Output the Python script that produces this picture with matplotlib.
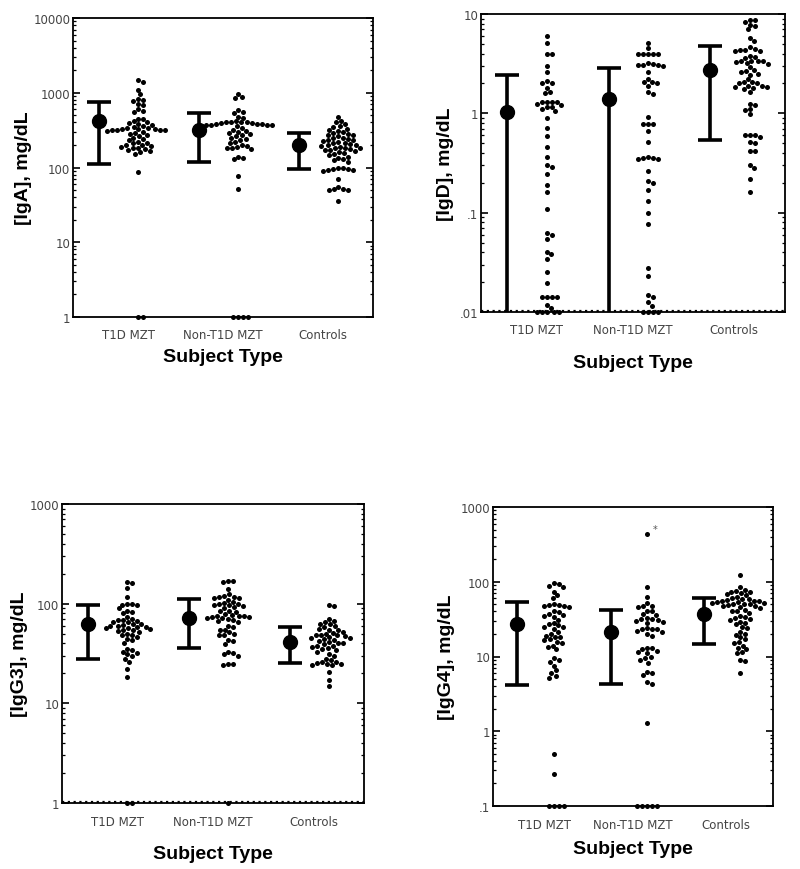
import numpy as np
import matplotlib
matplotlib.use("Agg")
import matplotlib.pyplot as plt
from matplotlib.ticker import FixedLocator, LogLocator, NullFormatter

plt.rcParams['font.family'] = ['DejaVu Sans']

categories = ["T1D MZT", "Non-T1D MZT", "Controls"]

# ---- IgA (mg/dL) ----
iga_t1d = [1480, 1400, 1100, 950, 820, 800, 780, 700, 680, 600, 570, 560, 450, 440, 420, 400,
           390, 380, 370, 360, 350, 340, 335, 330, 330, 325, 320, 320, 315, 315, 310, 300, 290,
           280, 270, 260, 250, 240, 230, 220, 215, 210, 200, 200, 195, 190, 185, 180, 175, 170,
           165, 160, 150, 88, 1, 1]
iga_non = [960, 870, 850, 580, 560, 540, 480, 460, 420, 410, 410, 400, 400, 395, 390, 385, 380,
           380, 375, 370, 370, 365, 360, 340, 320, 310, 300, 290, 280, 270, 260, 250, 240, 230,
           220, 210, 200, 195, 190, 185, 180, 175, 140, 135, 130, 78, 52, 1, 1, 1, 1]
iga_ctl = [480, 420, 400, 380, 360, 350, 330, 320, 310, 300, 290, 280, 275, 270, 260, 250, 245,
           240, 235, 230, 225, 220, 215, 210, 205, 200, 200, 195, 190, 185, 180, 180, 175, 170,
           170, 165, 160, 155, 150, 145, 140, 135, 130, 125, 120, 98, 97, 96, 95, 94, 92, 90,
           70, 55, 52, 51, 50, 50, 36]
iga_mean = [420, 318, 200]
iga_lo = [111, 118, 95]
iga_hi = [752, 535, 290]

# ---- IgD (mg/dL) ----
igd_t1d = [6.0, 5.1, 4.0, 4.0, 3.0, 2.6, 2.1, 2.0, 2.0, 1.8, 1.65, 1.6, 1.3, 1.3, 1.3, 1.3, 1.25,
           1.2, 1.15, 1.15, 1.1, 1.05, 0.9, 0.72, 0.59, 0.46, 0.36, 0.3, 0.29, 0.245, 0.19, 0.16,
           0.11, 0.062, 0.06, 0.054, 0.04, 0.038, 0.034, 0.025, 0.0195, 0.014, 0.014, 0.014,
           0.014, 0.0118, 0.011, 0.01, 0.01, 0.01, 0.01, 0.01]
igd_non = [5.1, 4.5, 4.0, 4.0, 4.0, 4.0, 4.0, 3.2, 3.15, 3.1, 3.1, 3.05, 3.0, 2.6, 2.2, 2.05,
           2.05, 2.0, 1.9, 1.63, 1.57, 0.92, 0.78, 0.78, 0.78, 0.67, 0.51, 0.36, 0.355, 0.355,
           0.35, 0.35, 0.265, 0.21, 0.2, 0.17, 0.13, 0.1, 0.077, 0.028, 0.023, 0.015, 0.0143,
           0.0125, 0.0115, 0.01, 0.01, 0.01, 0.01]
igd_ctl = [8.8, 8.7, 8.4, 7.8, 7.5, 7.0, 5.7, 5.3, 4.6, 4.4, 4.3, 4.3, 4.2, 4.2, 3.8, 3.7, 3.6,
           3.4, 3.4, 3.4, 3.35, 3.3, 3.2, 3.15, 2.9, 2.7, 2.65, 2.6, 2.5, 2.45, 2.2, 2.05, 2.05,
           2.0, 2.0, 1.9, 1.9, 1.85, 1.85, 1.8, 1.75, 1.63, 1.25, 1.2, 1.1, 1.08, 0.98, 0.6, 0.6,
           0.6, 0.58, 0.51, 0.5, 0.42, 0.42, 0.3, 0.28, 0.22, 0.163]
igd_mean = [1.04, 1.39, 2.73]
igd_lo = [0.001, 0.001, 0.54]
igd_hi = [2.45, 2.84, 4.73]

# ---- IgG3 (mg/dL) ----
igg3_t1d = [165, 160, 145, 118, 100, 99, 98, 96, 90, 85, 83, 80, 74, 70, 69, 68, 67, 66, 65, 63,
            62, 61, 60, 60, 59, 58, 57, 57, 56, 55, 54, 53, 52, 50, 49, 48, 46, 44, 43, 40, 35,
            34, 33, 32, 31, 30, 28, 26, 22, 18.5, 1, 1]
igg3_non = [170, 168, 165, 140, 125, 120, 118, 116, 115, 113, 110, 105, 102, 100, 100, 98, 96,
            94, 92, 90, 85, 84, 83, 78, 77, 76, 75, 75, 74, 73, 72, 71, 70, 68, 67, 66, 60, 58,
            55, 54, 52, 50, 49, 48, 43, 42, 39, 33, 32, 31, 30, 25, 25, 24.5, 1]
igg3_ctl = [96, 94, 70, 67, 65, 63, 62, 60, 58, 56, 55, 54, 52, 51, 50, 49, 48, 48, 47, 46, 45,
            45, 44, 43, 42, 41, 40, 40, 39, 38, 38, 37, 36, 35, 34.5, 33, 31, 30, 28, 27, 26, 26,
            25.5, 25, 25, 24.5, 24, 20.5, 17, 15]
igg3_mean = [63, 71, 41]
igg3_lo = [27.8, 35.7, 25.4]
igg3_hi = [98, 111, 59]

# ---- IgG4 (mg/dL) ----
igg4_t1d = [95, 92, 88, 85, 74, 66, 61, 50, 49, 49, 48, 47, 46, 40, 39, 37, 36, 35, 34, 31, 28,
            27, 26, 25, 25, 23, 21, 20, 19, 18, 18, 17, 16.5, 15.5, 15, 14, 13.5, 12.5, 9.5, 9,
            8.5, 7.5, 6.5, 6.0, 5.5, 5.2, 0.5, 0.27, 0.1, 0.1, 0.1, 0.1]
igg4_non = [440, 84, 62, 52, 48, 47, 46, 41, 40, 37, 36, 33, 32, 32, 31, 30, 29, 28, 24, 23.5,
            23, 23, 22, 21, 20, 19, 13, 13, 12.5, 12, 11.5, 11, 10, 9.5, 9, 8.3, 6.2, 6.0, 5.7,
            4.6, 4.3, 1.3, 0.1, 0.1, 0.1, 0.1, 0.1]
igg4_ctl = [122, 84, 78, 76, 74, 73, 70, 68, 66, 62, 60, 59, 58, 57, 56, 55, 55, 54, 53, 52, 52,
            51, 50, 50, 49, 48, 47, 46, 45, 42, 41, 40, 38, 35, 34, 33, 32, 31, 29, 28, 27, 25,
            24, 21, 20, 19.5, 18, 17, 15.5, 15, 14, 13, 12.5, 11.5, 11, 9.0, 8.8, 6.0]
igg4_mean = [27, 21, 37]
igg4_lo = [4.2, 4.3, 14.6]
igg4_hi = [53, 42, 61]

iga_ticks = [1, 10, 100, 1000, 10000]
iga_ticklabels = ["1", "10", "100", "1000", "10000"]
igd_ticks = [0.01, 0.1, 1, 10]
igd_ticklabels = [".01", ".1", "1", "10"]
igg3_ticks = [1, 10, 100, 1000]
igg3_ticklabels = ["1", "10", "100", "1000"]
igg4_ticks = [0.1, 1, 10, 100, 1000]
igg4_ticklabels = [".1", "1", "10", "100", "1000"]

W, H = 800, 870
fig = plt.figure(figsize=(W / 100, H / 100), dpi=100)


def axes_px(l, r, t, b):
    return fig.add_axes([l / W, 1 - b / H, (r - l) / W, (b - t) / H])


def swarm_x(ax, xc, vals, d=5.0, step=0.5):
    vals = np.asarray(vals, float)
    pts = ax.transData.transform(np.column_stack([np.full(len(vals), xc), vals]))
    x0 = pts[0, 0]
    ypix = pts[:, 1]
    order = np.argsort(-vals, kind="stable")
    placed = []
    offs = np.zeros(len(vals))
    for i in order:
        y = ypix[i]
        k = 0
        while True:
            cands = [0.0] if k == 0 else [k * step, -k * step]
            ok = None
            for c in cands:
                good = True
                for (px, py) in placed:
                    if abs(py - y) < d and (px - c) ** 2 + (py - y) ** 2 < d * d:
                        good = False
                        break
                if good:
                    ok = c
                    break
            if ok is not None:
                offs[i] = ok
                placed.append((ok, y))
                break
            k += 1
    inv = ax.transData.inverted()
    xs = inv.transform(np.column_stack([x0 + offs, ypix]))[:, 0]
    return xs


def panel(box, groups, means, los, his, ylim, ticks, ticklabels, ylabel, xlabel_pad,
          cat_pad, ylabel_pad, bottom_dots=False):
    ax = axes_px(*box)
    ax.set_yscale("log")
    ax.set_ylim(*ylim)
    ax.set_xlim(0.5, 3.5)
    for sp in ax.spines.values():
        sp.set_linewidth(1.3)
        sp.set_color("black")
    ax.yaxis.set_major_locator(FixedLocator(ticks))
    ax.set_yticklabels(ticklabels)
    ax.yaxis.set_minor_locator(LogLocator(base=10, subs=np.arange(2, 10)))
    ax.yaxis.set_minor_formatter(NullFormatter())
    ax.tick_params(axis="y", which="major", direction="in", length=5, width=1.2,
                   left=True, right=True, labelsize=8.5, labelcolor="#444444", pad=2)
    ax.tick_params(axis="y", which="minor", direction="in", length=2.5, width=0.9,
                   left=True, right=True)
    ax.set_xticks([1.05, 2.0, 3.0])
    ax.set_xticklabels(categories)
    ax.tick_params(axis="x", which="major", length=0, labelsize=8.5, labelcolor="#444444",
                   pad=cat_pad)
    ax.set_xlabel("Subject Type", family="Liberation Sans", fontweight="bold", fontsize=14,
                  labelpad=xlabel_pad)
    ax.set_ylabel(ylabel, family="Liberation Sans", fontweight="bold", fontsize=14,
                  labelpad=ylabel_pad)
    cats = np.arange(1, 4)
    xe = cats - 0.24
    m = np.asarray(means)
    ax.errorbar(xe, m, yerr=[m - np.asarray(los), np.asarray(his) - m], fmt="o", color="black",
                ms=10, elinewidth=2.6, capsize=8.5, capthick=2.6, zorder=3)
    pts_out = []
    for c, vals in zip(cats, groups):
        xs = swarm_x(ax, c + 0.15, vals)
        ax.scatter(xs, vals, s=13, color="black", linewidths=0, zorder=4, clip_on=False)
        pts_out.append((xs, vals))
    if bottom_dots:
        ax.axhline(ylim[0] * 1.03, color="black", lw=1.6, ls=(0, (1, 1.6)), zorder=2)
    return ax, pts_out


panel((73, 373, 19, 318), [iga_t1d, iga_non, iga_ctl], iga_mean, iga_lo, iga_hi,
      (1, 10000), iga_ticks, iga_ticklabels, "[IgA], mg/dL", 5, 8, 1)
panel((481, 785, 15, 313), [igd_t1d, igd_non, igd_ctl], igd_mean, igd_lo, igd_hi,
      (0.01, 10), igd_ticks, igd_ticklabels, "[IgD], mg/dL", 13, 8, 4, bottom_dots=True)
panel((62, 364, 505, 804), [igg3_t1d, igg3_non, igg3_ctl], igg3_mean, igg3_lo, igg3_hi,
      (1, 1000), igg3_ticks, igg3_ticklabels, "[IgG3], mg/dL", 12, 9, 1, bottom_dots=True)
ax4, pts4 = panel((493, 773, 508, 807), [igg4_t1d, igg4_non, igg4_ctl], igg4_mean, igg4_lo,
                  igg4_hi, (0.1, 1000), igg4_ticks, igg4_ticklabels, "[IgG4], mg/dL", 6, 9, 4)

# asterisk next to the highest Non-T1D IgG4 value
xs_non, v_non = pts4[1]
j = int(np.argmax(v_non))
ax4.annotate("*", xy=(xs_non[j], v_non[j]), xytext=(4, 0), textcoords="offset points",
             fontsize=7, color="#555555", ha="left", va="bottom")

fig.savefig("out.png", dpi=100)
